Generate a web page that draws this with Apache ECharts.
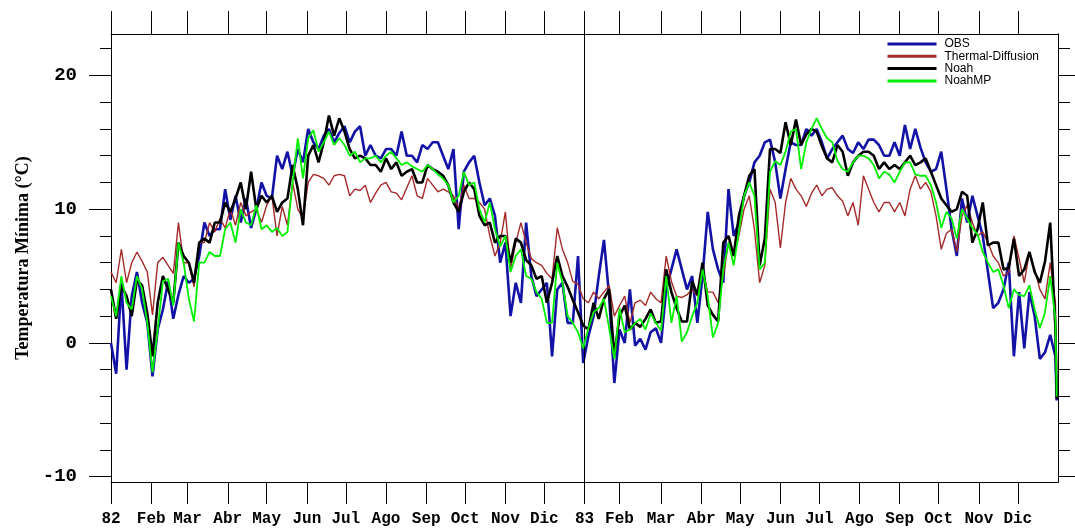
<!DOCTYPE html>
<html>
<head>
<meta charset="utf-8">
<script src="https://cdn.jsdelivr.net/npm/echarts@6/dist/echarts.min.js"></script>
<style>
html,body{margin:0;padding:0;background:#fff;}
#chart{width:1075px;height:531px;}
</style>
</head>
<body>
<div id="chart"></div>
<script>
// ---------- data (daily minimum temperature, sampled every 4 days) ----------
const seriesNames = ['OBS', 'Thermal-Diffusion', 'Noah', 'NoahMP'];

// month-start tick positions (day index from 1 Jan 1982) and their labels
const monthTickDays = [0, 31, 59, 90, 120, 151, 181, 212, 243, 273, 304, 334,
                       365, 392, 424, 455, 485, 516, 546, 577, 608, 638, 669, 699];
const monthTickLabels = ['82', 'Feb', 'Mar', 'Abr', 'May', 'Jun', 'Jul', 'Ago', 'Sep', 'Oct', 'Nov', 'Dic',
                         '83', 'Feb', 'Mar', 'Abr', 'May', 'Jun', 'Jul', 'Ago', 'Sep', 'Oct', 'Nov', 'Dic'];
const yMajorTicks = [-10, 0, 10, 20];
const yMinorTicks = [-8, -6, -4, -2, 2, 4, 6, 8, 12, 14, 16, 18, 22];

const obs1982 = [0.0, -2.3, 4.5, -2.0, 3.5, 5.3, 3.0, 1.5, -2.5, 1.0, 2.5, 4.6, 1.8, 3.6, 5.0, 4.5, 4.8, 6.5, 9.0, 8.0, 8.5, 8.5, 11.5, 9.2, 11.0, 9.0, 10.8, 8.6, 10.0, 12.0, 11.0,
  10.8, 14.0, 13.0, 14.3, 12.5, 14.5, 13.5, 16.0, 15.0, 14.5, 15.5, 16.0, 15.0, 15.7, 16.2, 15.0, 15.8, 16.2, 14.0, 14.8, 14.0, 13.8, 14.5, 14.5, 14.0, 15.8, 14.0, 14.0, 13.5, 14.8,
  14.5, 15.0, 15.0, 14.0, 13.0, 14.5, 8.5, 12.8, 13.5, 14.0, 12.0, 10.3, 10.8, 9.5, 6.0, 7.5, 2.0, 4.5, 3.0, 9.0, 5.0, 3.5, 4.0, 4.5, -1.0, 4.0, 4.5, 1.5, 1.5, 6.5, -1.5];
const obs1983 = [0.5, 2.0, 5.0, 7.7, 3.5, -3.0, 1.0, 0.0, 4.0, -0.2, 0.3, -0.5, 0.8, 1.1, 0.0, 4.0, 5.5, 7.0, 5.5, 4.0, 5.0, 1.5, 5.0, 9.8, 7.0, 5.5, 4.5, 11.5, 8.0, 9.0,
  11.0, 12.0, 13.5, 14.0, 15.0, 15.2, 13.5, 10.8, 13.0, 15.0, 14.8, 14.8, 16.0, 15.5, 16.0, 15.0, 13.8, 14.5, 15.0, 15.5, 14.5, 14.2, 15.0, 14.5, 15.2, 15.2, 14.8, 14.0, 14.0, 15.0, 14.0,
  16.3, 14.5, 16.0, 14.6, 13.5, 12.8, 13.0, 14.3, 11.5, 8.5, 6.5, 10.8, 9.0, 11.0, 9.5, 8.0, 5.3, 2.6, 3.0, 4.0, 6.0, -1.0, 3.8, -0.4, 3.8, 2.0, -1.2, -0.7, 0.6, -1.0,
  -4.3];

const thermal1982 = [5.3, 4.5, 7.0, 4.5, 6.0, 6.8, 6.1, 5.3, 2.1, 6.0, 6.4, 5.8, 5.2, 9.0, 6.0, 6.0, 4.2, 7.5, 7.5, 9.0, 8.3, 9.3, 8.6, 10.0, 8.8, 10.5, 9.5, 9.8, 10.0, 9.0, 10.3,
  11.0, 8.0, 10.2, 8.8, 12.0, 10.0, 9.3, 12.0, 12.6, 12.5, 12.3, 11.8, 12.5, 12.6, 12.5, 11.0, 11.5, 11.4, 11.8, 10.5, 11.2, 11.8, 12.0, 11.3, 11.2, 10.7, 11.6, 12.5, 11.0, 10.8,
  12.3, 11.8, 11.3, 11.5, 11.3, 11.0, 10.0, 11.8, 10.8, 10.8, 10.5, 10.0, 8.0, 6.5, 7.5, 9.8, 5.5, 7.5, 9.0, 7.5, 6.3, 6.0, 5.8, 5.2, 4.8, 8.6, 7.0, 6.0, 4.6, 4.4, 3.3];
const thermal1983 = [3.0, 3.8, 3.3, 3.8, 4.3, 2.0, 2.8, 3.5, 1.5, 3.0, 3.2, 2.8, 3.8, 3.3, 3.0, 6.5, 4.6, 3.5, 3.4, 3.6, 4.0, 3.5, 5.5, 3.8, 3.8, 3.0, 5.0, 7.5, 6.5, 8.0,
  10.0, 11.0, 8.5, 4.5, 5.8, 11.5, 10.5, 7.1, 10.5, 12.3, 11.5, 11.0, 10.2, 11.2, 11.8, 11.0, 11.5, 11.6, 11.0, 10.6, 9.5, 10.5, 8.8, 12.5, 11.5, 10.5, 9.8, 10.5, 10.5, 9.8, 10.5,
  9.5, 11.5, 12.5, 11.5, 12.0, 11.3, 9.5, 7.0, 8.2, 8.5, 6.8, 9.5, 10.3, 9.0, 8.0, 8.3, 7.5, 6.5, 6.0, 5.0, 5.3, 8.0, 6.3, 4.5, 6.8, 5.5, 4.0, 3.3, 6.0, 3.0,
  -2.0];

const noah1982 = [4.0, 1.8, 4.3, 3.5, 2.0, 4.7, 4.3, 2.2, -1.0, 3.0, 5.0, 4.0, 3.0, 7.5, 6.5, 6.0, 4.5, 7.5, 7.8, 7.5, 9.0, 9.0, 10.5, 9.8, 10.8, 12.0, 10.0, 12.8, 10.0, 11.0, 10.5,
  11.0, 9.8, 10.5, 10.8, 13.3, 11.5, 8.8, 14.0, 14.8, 13.5, 15.0, 17.0, 15.5, 16.8, 15.8, 14.5, 13.8, 14.0, 13.8, 13.3, 13.3, 12.8, 13.8, 13.0, 13.5, 12.5, 12.8, 13.0, 12.0, 12.0,
  13.3, 13.0, 12.8, 12.5, 11.8, 10.5, 9.8, 11.3, 12.0, 11.5, 9.5, 8.8, 9.0, 7.5, 8.0, 8.0, 6.0, 7.8, 7.5, 6.2, 5.8, 4.8, 5.0, 3.0, 4.5, 6.5, 5.0, 4.2, 3.2, 2.3, 1.3];
const noah1983 = [1.0, 3.0, 1.8, 3.3, 4.0, -1.0, 2.0, 2.8, 1.0, 1.5, 1.2, 1.8, 2.5, 1.5, 1.6, 5.5, 3.8, 2.6, 1.6, 1.6, 4.6, 3.6, 6.0, 2.8, 2.1, 1.6, 7.5, 8.0, 6.5, 9.5,
  11.0, 12.5, 13.0, 5.8, 7.8, 14.5, 14.5, 14.2, 16.5, 14.8, 16.7, 14.8, 15.6, 16.0, 15.8, 14.7, 13.8, 13.5, 14.8, 14.3, 12.5, 13.5, 14.0, 14.3, 14.3, 14.0, 13.0, 13.5, 13.0, 13.3, 13.0,
  13.5, 14.0, 13.3, 13.5, 13.8, 12.8, 11.8, 10.8, 10.3, 9.8, 10.0, 11.3, 11.0, 7.5, 8.5, 10.5, 7.3, 7.5, 7.5, 5.5, 5.6, 7.8, 5.0, 5.5, 6.8, 5.3, 4.5, 6.1, 9.0, 1.1,
  -4.2];

const noahmp1982 = [3.5, 2.0, 5.0, 3.0, 2.5, 5.0, 4.0, 1.5, -2.2, 1.0, 4.6, 4.8, 2.8, 7.5, 6.0, 3.3, 1.6, 6.0, 6.0, 6.8, 6.5, 6.5, 8.5, 9.0, 7.5, 10.0, 9.0, 8.8, 10.3, 8.5, 8.8,
  8.3, 8.6, 8.0, 8.3, 12.0, 15.3, 12.3, 15.3, 15.9, 14.3, 15.0, 15.8, 14.8, 15.3, 14.8, 14.0, 14.3, 13.5, 13.8, 13.8, 14.0, 13.5, 14.0, 14.3, 13.8, 13.3, 13.5, 13.2, 13.0, 12.8,
  13.3, 13.0, 12.6, 12.3, 11.8, 10.5, 11.0, 12.8, 11.8, 12.0, 10.0, 9.0, 10.5, 8.5, 7.2, 8.0, 5.3, 6.5, 7.0, 5.0, 4.8, 3.8, 3.3, 1.5, 1.5, 6.0, 4.5, 2.0, 1.5, 0.8, -0.4];
const noahmp1983 = [1.1, 2.3, 2.6, 3.3, 1.1, -1.2, 2.6, 0.8, 1.0, 1.5, 1.8, 1.0, 2.2, 1.5, 0.9, 5.0, 1.5, 3.5, 0.1, 0.8, 2.0, 3.0, 5.5, 3.5, 0.4, 1.5, 5.5, 7.5, 5.8, 8.3,
  11.0, 12.0, 11.0, 5.5, 6.0, 12.8, 13.6, 13.3, 14.3, 15.8, 16.0, 13.0, 15.0, 16.0, 16.8, 16.0, 15.3, 15.0, 13.6, 13.0, 12.8, 13.5, 14.0, 14.0, 13.8, 13.3, 12.3, 12.8, 12.6, 12.0, 12.8,
  13.5, 13.5, 12.6, 12.5, 12.5, 11.8, 10.5, 8.6, 9.8, 9.3, 7.8, 10.0, 9.3, 8.6, 8.1, 6.8, 6.0, 5.3, 5.5, 4.3, 2.6, 4.0, 3.6, 3.5, 4.3, 2.5, 1.1, 2.3, 5.0, 1.8,
  -4.0];

// sample days: every 4 days from 1 Jan 1982; 1983 continues at day 368, last sample = 31 Dec 1983
const SAMPLE_STEP = 4;
const YEAR2_START = 368;
const LAST_DAY = 729;
const YEAR_BOUNDARY = 365;
const TOTAL_DAYS = 730;

function buildSeries(y1, y2) {
  const out = [];
  y1.forEach((v, i) => out.push([i * SAMPLE_STEP, v]));
  y2.forEach((v, i) => out.push([i === y2.length - 1 ? LAST_DAY : YEAR2_START + i * SAMPLE_STEP, v]));
  return out;
}

const seriesValues = [
  buildSeries(obs1982, obs1983),
  buildSeries(thermal1982, thermal1983),
  buildSeries(noah1982, noah1983),
  buildSeries(noahmp1982, noahmp1983)
];
const seriesColors = ['#1212a6', '#a52a2a', '#000000', '#00f000'];
const seriesWidths = [2.6, 1.4, 2.6, 1.8];

// ---------- chart ----------
const chart = echarts.init(document.getElementById('chart'), null, {renderer: 'canvas'});
const Y_MIN = -10.4, Y_MAX = 23.1;
const black = {color: '#000', width: 1};
const monoFont = '"Liberation Mono", "DejaVu Sans Mono", monospace';

function tickAxisY(position, ticks, len, labels) {
  return {
    type: 'value', position: position, min: Y_MIN, max: Y_MAX,
    axisLine: {show: true, onZero: false, lineStyle: black},
    axisTick: {show: true, inside: false, length: len, customValues: ticks, lineStyle: black},
    axisLabel: labels ? {
      show: true, customValues: ticks, margin: 34, color: '#000',
      fontFamily: monoFont, fontWeight: 'bold', fontSize: 19
    } : {show: false},
    splitLine: {show: false}
  };
}

const option = {
  animation: false,
  backgroundColor: '#ffffff',
  grid: {left: 111, right: 17, top: 34, bottom: 49, containLabel: false},
  legend: {
    orient: 'vertical', left: 886, top: 38, padding: 0, itemGap: 0.3,
    itemWidth: 49, itemHeight: 12,
    data: seriesNames,
    lineStyle: {width: 3},
    itemStyle: {opacity: 0},
    textStyle: {fontFamily: '"Liberation Sans", Arial, sans-serif', fontSize: 12, color: '#000',
                lineHeight: 12, padding: [0, 0, 0, 3]}
  },
  graphic: [{
    type: 'text', x: 23, y: 258, rotation: Math.PI / 2,
    style: {text: 'Temperatura Mínima (°C)', fill: '#000',
            font: 'bold 18px "Liberation Serif", "Times New Roman", serif',
            textAlign: 'center', textVerticalAlign: 'middle'}
  }],
  xAxis: [
    {
      type: 'value', position: 'bottom', min: 0, max: TOTAL_DAYS,
      axisLine: {show: true, onZero: false, lineStyle: black},
      axisTick: {show: true, inside: false, length: 22, customValues: monthTickDays, lineStyle: black},
      axisLabel: {
        show: true, customValues: monthTickDays, margin: 29, color: '#000',
        fontFamily: monoFont, fontWeight: 'bold', fontSize: 16,
        formatter: v => monthTickLabels[monthTickDays.indexOf(v)]
      },
      splitLine: {show: false}
    },
    {
      type: 'value', position: 'top', min: 0, max: TOTAL_DAYS,
      axisLine: {show: true, onZero: false, lineStyle: black},
      axisTick: {show: true, inside: false, length: 23, customValues: monthTickDays, lineStyle: black},
      axisLabel: {show: false},
      splitLine: {show: false}
    }
  ],
  yAxis: [
    tickAxisY('left', yMajorTicks, 22, true),
    tickAxisY('left', yMinorTicks, 11, false),
    tickAxisY('right', yMajorTicks, 17, false),
    tickAxisY('right', yMinorTicks, 12, false)
  ],
  series: seriesNames.map((name, k) => ({
    name: name, type: 'line', xAxisIndex: 0, yAxisIndex: 0,
    data: seriesValues[k], showSymbol: false, symbol: 'none', smooth: false,
    color: seriesColors[k],
    lineStyle: {color: seriesColors[k], width: seriesWidths[k]},
    z: 2 + k,
    markLine: k === 0 ? {
      silent: true, symbol: ['none', 'none'], label: {show: false},
      lineStyle: {color: '#000', width: 1, type: 'solid'},
      data: [{xAxis: YEAR_BOUNDARY}]
    } : undefined
  }))
};
chart.setOption(option);
</script>
</body>
</html>
